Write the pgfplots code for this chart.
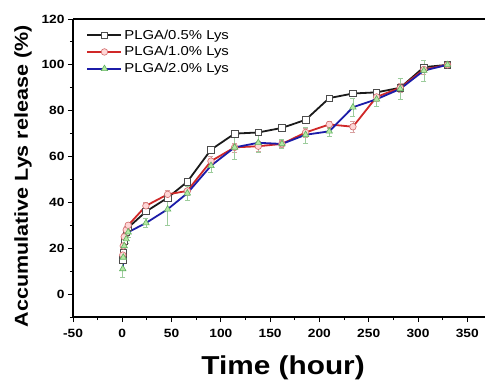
\documentclass[border=0pt]{standalone}
\usepackage{fontspec}
\setmainfont{Liberation Sans}[FakeStretch=1.15]
\usepackage{pgfplots}
\pgfplotsset{compat=1.18}
\definecolor{cblack}{HTML}{1A1A1A}
\definecolor{cred}{HTML}{D02828}
\definecolor{cblue}{HTML}{1C1CA8}
\definecolor{redfill}{HTML}{FFD6D6}
\definecolor{rededge}{HTML}{D06A6A}
\definecolor{greenfill}{HTML}{B4E8A4}
\definecolor{greenedge}{HTML}{5FB05F}
\definecolor{errgreen}{HTML}{9CCC9C}
\definecolor{errred}{HTML}{D8A0A0}
\begin{document}
\begin{tikzpicture}
\begin{axis}[
  name=ax,
  scale only axis,
  width=412bp, height=298bp,
  xmin=-50, xmax=368, ymin=-10, ymax=120,
  axis x line*=box, axis y line*=left,
  xtick pos=bottom, ytick pos=left,
  xtick={-50,0,...,350}, ytick={0,20,...,120},
  minor x tick num=1, minor y tick num=1,
  extra y ticks={-10}, extra y tick labels={},
  extra y tick style={major tick length=3bp},
  tick align=outside,
  major tick length=5bp, minor tick length=3bp,
  every tick/.style={black, line width=0.9bp},
  axis line style={black, line width=1.1bp},
  /pgf/number format/assume math mode=true,
  tick label style={font=\bfseries\fontsize{12}{13}\selectfont},
  xticklabel style={yshift=-4bp},
  xlabel={\bfseries Time (hour)},
  ylabel={\bfseries Accumulative Lys release (\%)},
  xlabel style={font=\fontsize{26}{28}\selectfont, at={(axis description cs:0.51,-0.171)}, anchor=center},
  ylabel style={font=\fontsize{18.8}{20}\selectfont, at={(axis description cs:-0.121,0.472)}, anchor=center},
  legend style={at={(axis description cs:0.03,0.975)}, anchor=north west, draw=none, fill=none,
    font=\fontsize{13}{14}\selectfont, row sep=2bp, inner sep=1bp},
  legend cell align=left,
  legend image code/.code={\draw[mark repeat=2,mark phase=2] plot coordinates {(0bp,0bp) (17bp,0bp) (34bp,0bp)};},
]
\addplot[cblack, line width=1.8bp, mark=square*, mark size=3.2bp,
  mark options={fill=white, draw=black!70, line width=0.6bp}] coordinates {
(0.5,15) (1,18) (2,23) (4,27) (6,29) (24,36) (46,42) (66,49) (90,63) (114,70)
(138,70.5) (162,72.5) (186,76) (210,85.5) (234,87.5) (258,88) (282,90) (306,99) (330,100)};
\addlegendentry{PLGA/0.5\% Lys}
\addplot[cred, line width=1.8bp, mark=*, mark size=3.3bp,
  mark options={fill=redfill, draw=rededge, line width=0.6bp},
  error bars/.cd, y dir=both, y explicit,
  error bar style={errred, line width=0.6bp},
  error mark options={rotate=90, mark size=2.5bp, errred}] coordinates {
(0.5,17) +- (0,2) (1,21) +- (0,1.5) (2,25) +- (0,1.5) (4,28) +- (0,1.5) (6,30) +- (0,1)
(24,38.5) +- (0,1.5) (46,43.5) +- (0,2) (66,45) +- (0,2) (90,58) +- (0,2) (114,64) +- (0,2)
(138,64.5) +- (0,2) (162,65.5) +- (0,1.5) (186,70.5) +- (0,2) (210,74) +- (0,1.5)
(234,73) +- (0,2.5) (258,86) +- (0,2) (282,90) +- (0,2) (306,98) +- (0,2) (330,100) +- (0,1)};
\addlegendentry{PLGA/1.0\% Lys}
\addplot[cblue, line width=1.8bp, mark=triangle*, mark size=3.7bp,
  mark options={fill=greenfill, draw=greenedge, line width=0.6bp},
  error bars/.cd, y dir=both, y explicit,
  error bar style={errgreen, line width=0.7bp},
  error mark options={rotate=90, mark size=2.5bp, errgreen}] coordinates {
(0.5,11) +- (0,3.5) (1,16) +- (0,2) (2,21) +- (0,2) (4,24) +- (0,2) (6,27) +- (0,2)
(24,31) +- (0,2) (46,37) +- (0,7) (66,44) +- (0,3) (90,56) +- (0,3) (114,64) +- (0,5)
(138,66) +- (0,4) (162,65.5) +- (0,2) (186,69.5) +- (0,3.5) (210,71) +- (0,2)
(234,81.5) +- (0,4) (258,85) +- (0,3) (282,89.5) +- (0,4.5) (306,97.5) +- (0,4.5) (330,100) +- (0,1)};
\addlegendentry{PLGA/2.0\% Lys}
\end{axis}
\pgfresetboundingbox
\path[use as bounding box] ([xshift=-73bp,yshift=-64bp]ax.south west) rectangle ([yshift=19bp]ax.north east);
\end{tikzpicture}
\end{document}
